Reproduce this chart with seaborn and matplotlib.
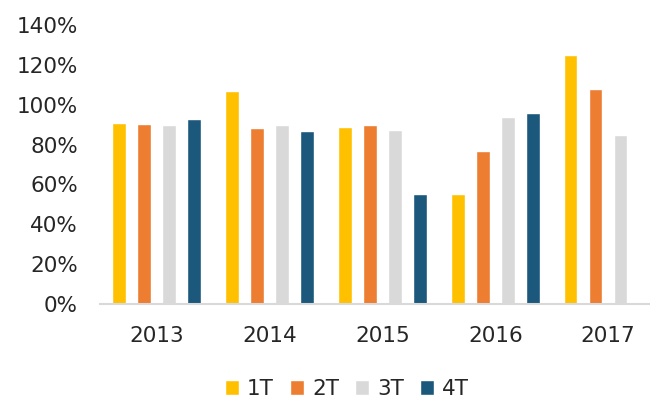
import pandas as pd
import numpy as np
import matplotlib
matplotlib.use('Agg')
import matplotlib.pyplot as plt
import seaborn as sns
from matplotlib.ticker import FuncFormatter

years = ['2013', '2014', '2015', '2016', '2017']
quarters = ['1T', '2T', '3T', '4T']
q1 = [91, 107, 89, 55, 125]
q2 = [90.5, 88.5, 90, 77, 108]
q3 = [90, 90, 87.5, 94, 85]
q4 = [93, 87, 55, 96, np.nan]
colors = ['#FFC000', '#ED7D31', '#D9D9D9', '#1B587C']

rows = []
for q, vals in zip(quarters, [q1, q2, q3, q4]):
    for y, v in zip(years, vals):
        rows.append({'Year': y, 'Quarter': q, 'Value': v})
df = pd.DataFrame(rows).dropna()

sns.set_style('white')
plt.rcParams['font.family'] = ['DejaVu Sans']

fig = plt.figure(figsize=(6.5, 4.03), dpi=100)
ax = fig.add_axes([100/650, 99/403, 550/650, 279/403])
sns.barplot(data=df, x='Year', y='Value', hue='Quarter', order=years, hue_order=quarters,
            palette=colors, saturation=1, width=0.885, gap=0.46, ax=ax, legend=True)

ax.set_ylim(0, 140)
ax.set_yticks(range(0, 141, 20))
ax.yaxis.set_major_formatter(FuncFormatter(lambda v, p: f'{v:.0f}%'))
ax.set_xlim(-0.5, 4.37)
ax.set_xlabel('')
ax.set_ylabel('')
for s in ['top', 'right', 'left']:
    ax.spines[s].set_visible(False)
ax.spines['bottom'].set_color('#D9D9D9')
ax.spines['bottom'].set_linewidth(1.5)
ax.tick_params(axis='y', length=0, pad=16, labelsize=15.5, colors='#262626')
ax.tick_params(axis='x', length=0, pad=16, labelsize=15.5, colors='#262626')

handles, labels = ax.get_legend_handles_labels()
ax.legend_.remove()
fig.legend(handles, labels, loc='center', bbox_to_anchor=(347/650, 1 - 389/403), ncol=4,
           frameon=False, fontsize=15.5, handlelength=0.65, handleheight=0.65,
           handletextpad=0.37, columnspacing=0.75, labelcolor='#262626')

fig.savefig('out.png', dpi=100)
